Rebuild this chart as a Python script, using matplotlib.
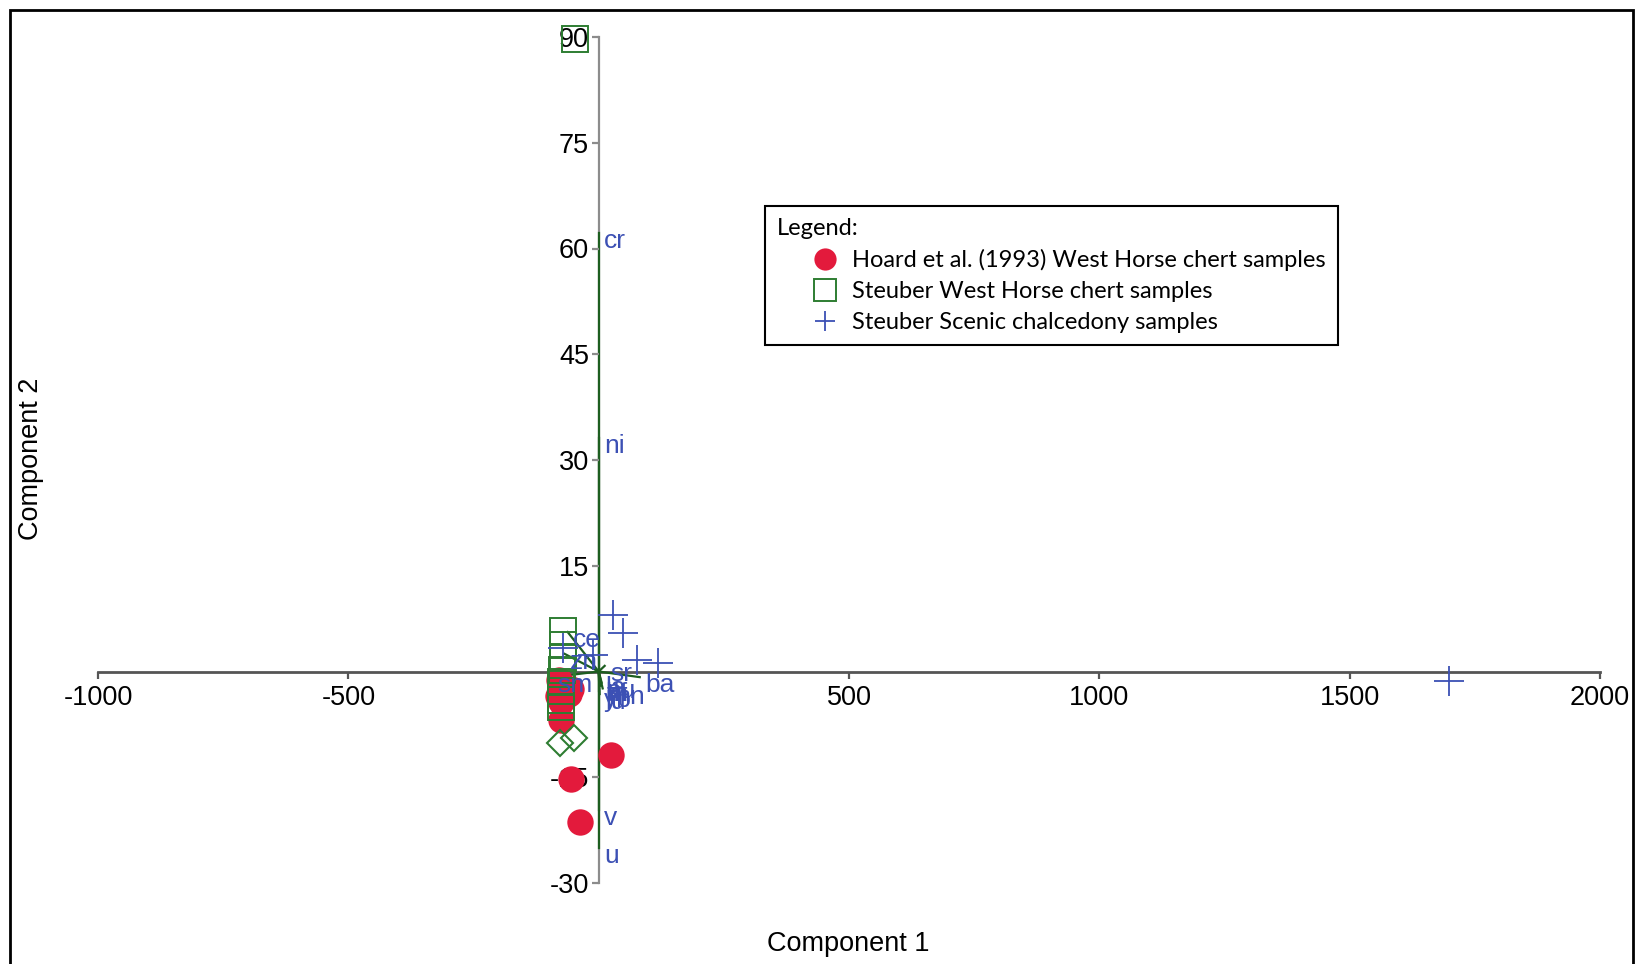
import numpy as np
import matplotlib.pyplot as plt
from matplotlib.patches import Rectangle

# Hoard et al. (1993) West Horse chert samples
hoard_x = [-80, -55, -82, -60, -76, -76, 24, -56, -38]
hoard_y = [-1.2, -2.5, -3.5, -3.2, -4.3, -6.9, -11.8, -15.3, -21.4]

# Steuber West Horse chert samples (squares) and the two diamond ones
steuber_x = [-48, -72, -72, -72, -74, -76, -76, -75, -75]
steuber_y = [89.7, 5.7, 3.8, 1.9, 0.2, -1.5, -2.8, -4.0, -5.0]
steuber_dia_x = [-77, -50]
steuber_dia_y = [-10.2, -9.5]

# Steuber Scenic chalcedony samples
scenic_x = [28, 48, 76, 118, 1699, -72, -12]
scenic_y = [8.0, 5.5, 1.7, 1.2, -1.4, 3.3, 2.3]

# loading vectors
load_names = ['cr', 'ni', 'ce', 'zn', 'sm', 'sr', 'ba', 'v', 'u',
              'la', 'yb', 'th', 'lu', 'eu', 'mn', 'hf']
load_x = [0, 0, -62, -68, -93, 12, 82, 0, 0,
          2, 0, 4, 2, 6, 8, 2]
load_y = [62.2, 33.1, 5.6, 2.5, -0.8, 0.8, -0.8, -19.6, -25,
          -1.2, -2.8, -2.0, -3.2, -1.6, -2.4, -2.0]

xticks = [-1000, -500, 500, 1000, 1500, 2000]
yticks = [-30, -15, 15, 30, 45, 60, 75, 90]

red = '#e31a3c'
green = '#2e7d32'
dkgreen = '#1d5e20'
blue = '#3c50b4'

plt.rcParams['font.family'] = ['Liberation Sans', 'DejaVu Sans']

W, H = 1637, 964
fig = plt.figure(figsize=(W / 100, H / 100), dpi=100)
ax = fig.add_axes([98 / W, 81 / H, 1502 / W, 846 / H])
ax.set_xlim(-1000, 2000)
ax.set_ylim(-30, 90)

# axes crossing at the origin
for s in ['top', 'right']:
    ax.spines[s].set_visible(False)
ax.spines['left'].set_position(('data', 0))
ax.spines['bottom'].set_position(('data', 0))
ax.spines['left'].set_color('#8c8c8c')
ax.spines['left'].set_linewidth(1.6)
ax.spines['bottom'].set_color('#555555')
ax.spines['bottom'].set_linewidth(2)
ax.spines['left'].set_zorder(1)
ax.spines['bottom'].set_zorder(1)
ax.set_xticks(xticks)
ax.set_yticks(yticks)
ax.set_xticklabels([str(t) for t in xticks])
ax.set_yticklabels([str(t) for t in yticks])
ax.tick_params(axis='x', length=5, width=1.6, color='#555555', labelsize=19.5, pad=5)
ax.tick_params(axis='y', length=5, width=1.6, color='#8c8c8c', labelsize=19.5, pad=2)

# vectors
for n, x, y in zip(load_names, load_x, load_y):
    ax.plot([0, x], [0, y], color=dkgreen, lw=1.6, zorder=1.5, clip_on=False)
    ax.annotate(n, (x, y), xytext=(4, -6), textcoords='offset points',
                ha='left', va='center', fontsize=19, color=blue, zorder=2.2)

h1, = ax.plot(hoard_x, hoard_y, 'o', ls='none', ms=19, color=red, mec='none',
              zorder=2, clip_on=False, label='Hoard et al. (1993) West Horse chert samples')
h2, = ax.plot(steuber_x, steuber_y, 's', ls='none', ms=18.5, mfc='none', mec=green, mew=1.4,
              zorder=2, clip_on=False, label='Steuber West Horse chert samples')
ax.plot(steuber_dia_x, steuber_dia_y, 'D', ls='none', ms=13.5, mfc='none', mec=green, mew=1.5,
        zorder=2, clip_on=False)
h3, = ax.plot(scenic_x, scenic_y, '+', ls='none', ms=22, color=blue, mew=1.3,
              zorder=2, clip_on=False, label='Steuber Scenic chalcedony samples')

leg = fig.legend(handles=[h1, h2, h3], loc='upper left', bbox_to_anchor=(765 / W, 1 - 206 / H),
                 title='Legend:', alignment='left', prop={'family': 'Lato', 'size': 17},
                 title_fontproperties={'family': 'Lato', 'size': 17},
                 frameon=True, fancybox=False, edgecolor='black', framealpha=1,
                 handlelength=4.07, handletextpad=-0.88, labelspacing=0.43, borderpad=0.5,
                 borderaxespad=0)
leg.get_frame().set_linewidth(1.5)
for hd, ms in zip(leg.legend_handles, [16, 16, 14]):
    hd.set_markersize(ms)

fig.text(848 / W, 1 - 944 / H, 'Component 1', ha='center', va='center', fontsize=19.5)
fig.text(31 / W, 1 - 459 / H, 'Component 2', ha='center', va='center', fontsize=19.5, rotation=90)

# outer frame, open at the bottom
fig.add_artist(Rectangle((10 / W, -0.05), 1623 / W, 1.05 - 10 / H, transform=fig.transFigure,
                         fill=False, ec='black', lw=2))

fig.savefig('out.png', dpi=100)
